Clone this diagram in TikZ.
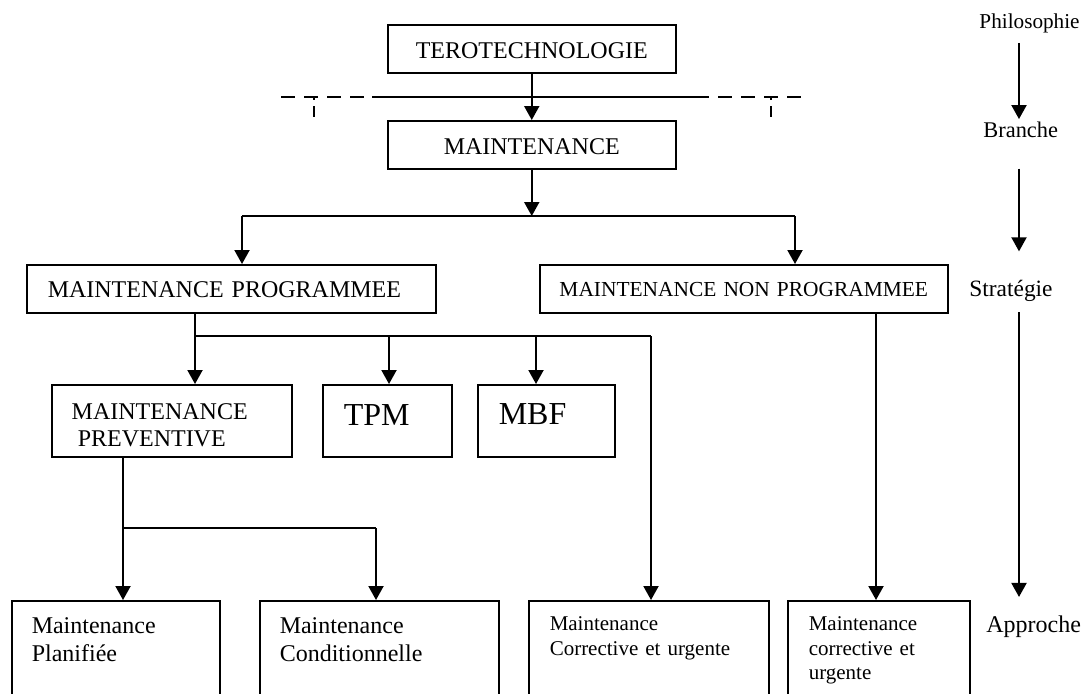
\documentclass[tikz,border=0pt]{standalone}
\usepackage{fontspec}
\setmainfont{Liberation Serif}
\usetikzlibrary{arrows.meta}

\begin{document}
\begin{tikzpicture}[x=0.5pt,y=-0.5pt,
  box/.style={draw, line width=0.75pt, anchor=north west, inner ysep=0pt,
    inner xsep=10.5pt, align=left, font=\fontsize{12}{13.8}\selectfont},
  ctr/.style={align=center},
  small/.style={font=\fontsize{10.5}{12.5}\selectfont},
  big/.style={font=\fontsize{16}{18}\selectfont},
  lvl/.style={anchor=base west, inner sep=0pt, font=\fontsize{12}{14}\selectfont},
  arr/.style={line width=1pt, -{Triangle[width=7.5pt,length=7pt]}},
  ln/.style={line width=0.75pt},
  rule/.style={line width=0.75pt, dash pattern=on 7pt off 4.5pt},
  tick/.style={line width=0.75pt, dash pattern=on 1.5pt off 3pt on 5.5pt}]

\useasboundingbox (0,0) rectangle (1082,693);
\clip (0,0) rectangle (1082,693);

% ---- boxes ----
\node[box, ctr, text width=123pt, text height=16.65pt, text depth=7.35pt] (tero) at (387,24) {TEROTECHNOLOGIE};
\node[box, ctr, text width=123pt, text height=17pt, text depth=7pt] (maint) at (387,120) {MAINTENANCE};

\node[box, text width=183.5pt, text height=16.5pt, text depth=7.5pt] (mp) at (26,264) {MAINTENANCE PROGRAMMEE};
\node[box, ctr, inner xsep=3pt, text width=198pt, text height=15.85pt, text depth=8.15pt,
  font=\fontsize{10.7}{12.5}\selectfont] (mnp) at (539,264) {MAINTENANCE NON PROGRAMMEE};

\node[box, inner xsep=10pt, text width=100pt, text height=17.3pt, text depth=18.7pt] (mprev) at (51,384)
  {MAINTENANCE\\\hspace*{3pt}PREVENTIVE};
\node[box, big, text width=43.5pt, text height=20.5pt, text depth=15.5pt] (tpm) at (322,384) {TPM};
\node[box, big, text width=47.5pt, text height=20pt, text depth=16pt] (mbf) at (477,384) {MBF};

\node[box, inner xsep=10pt, text width=84pt, text height=16.35pt, text depth=50pt,
  font=\fontsize{12}{14}\selectfont] (plan) at (11,600) {Maintenance\\Planifiée};
\node[box, inner xsep=10pt, text width=99.5pt, text height=16.35pt, text depth=50pt,
  font=\fontsize{12}{14}\selectfont] (cond) at (259,600) {Maintenance\\Conditionnelle};
\node[box, small, text width=99pt, text height=15pt, text depth=50pt] (corr) at (528,600)
  {Maintenance\\Corrective et urgente};
\node[box, small, text width=70pt, text height=15pt, text depth=50pt,
  font=\fontsize{10.5}{12.3}\selectfont] (corr2) at (787,600)
  {Maintenance\\corrective et\\urgente};

% ---- level labels ----
\node[lvl, anchor=base east, font=\fontsize{10.6}{12}\selectfont] (philo) at (1080,28) {Philosophie};
\node[lvl, font=\fontsize{11.2}{13}\selectfont] (bran) at (983,137) {Branche};
\node[lvl, font=\fontsize{11.7}{14}\selectfont] (strat) at (969,296) {Stratégie};
\node[lvl] (appr) at (986,632) {Approche};

\coordinate (rx) at (1019,0);
\draw[arr, shorten <=5pt, shorten >=1pt] (philo.south -| rx) -- (bran.north -| rx);
\draw[arr, shorten <=15.5pt, shorten >=14pt] (bran.south -| rx) -- (strat.north -| rx);
\draw[arr, shorten <=5.5pt, shorten >=9pt] (strat.south -| rx) -- (appr.north -| rx);

% ---- dashed boundary under the philosophy ----
\coordinate (dL) at (281,97);
\coordinate (dR) at (807,97);
\coordinate (sL) at (372,97);
\coordinate (sR) at (697,97);
\coordinate (tL) at (314,97);
\coordinate (tR) at (771,97);
\draw[rule] (dL) -- (dR);
\draw[ln] (sL) -- (sR);
\draw[tick] (tL) -- ++(0,20);
\draw[tick] (tR) -- ++(0,20);

% ---- connectors ----
\draw[arr] (tero.south) -- (maint.north);

\coordinate (b1) at (242,216);
\coordinate (b2) at (795,216);
\draw[arr] (maint.south) -- (maint.south |- b1);
\draw[ln] (b1) -- (b2);
\draw[arr] (b1) -- (b1 |- mp.north);
\draw[arr] (b2) -- (b2 |- mnp.north);

\coordinate (p1) at (195,336);
\coordinate (p2) at (389,336);
\coordinate (p3) at (536,336);
\coordinate (p4) at (651,336);
\draw[arr] (mp.south -| p1) -- (p1 |- mprev.north);
\draw[ln] (p1) -- (p4);
\draw[arr] (p2) -- (p2 |- tpm.north);
\draw[arr] (p3) -- (p3 |- mbf.north);
\draw[arr] (p4) -- (p4 |- corr.north);

\coordinate (q0) at (123,528);
\coordinate (q1) at (376,528);
\draw[arr] (mprev.south -| q0) -- (q0 |- plan.north);
\draw[ln] (q0) -- (q1);
\draw[arr] (q1) -- (q1 |- cond.north);

\coordinate (r0) at (876,312);
\draw[arr] (mnp.south -| r0) -- (r0 |- corr2.north);

\end{tikzpicture}
\end{document}
